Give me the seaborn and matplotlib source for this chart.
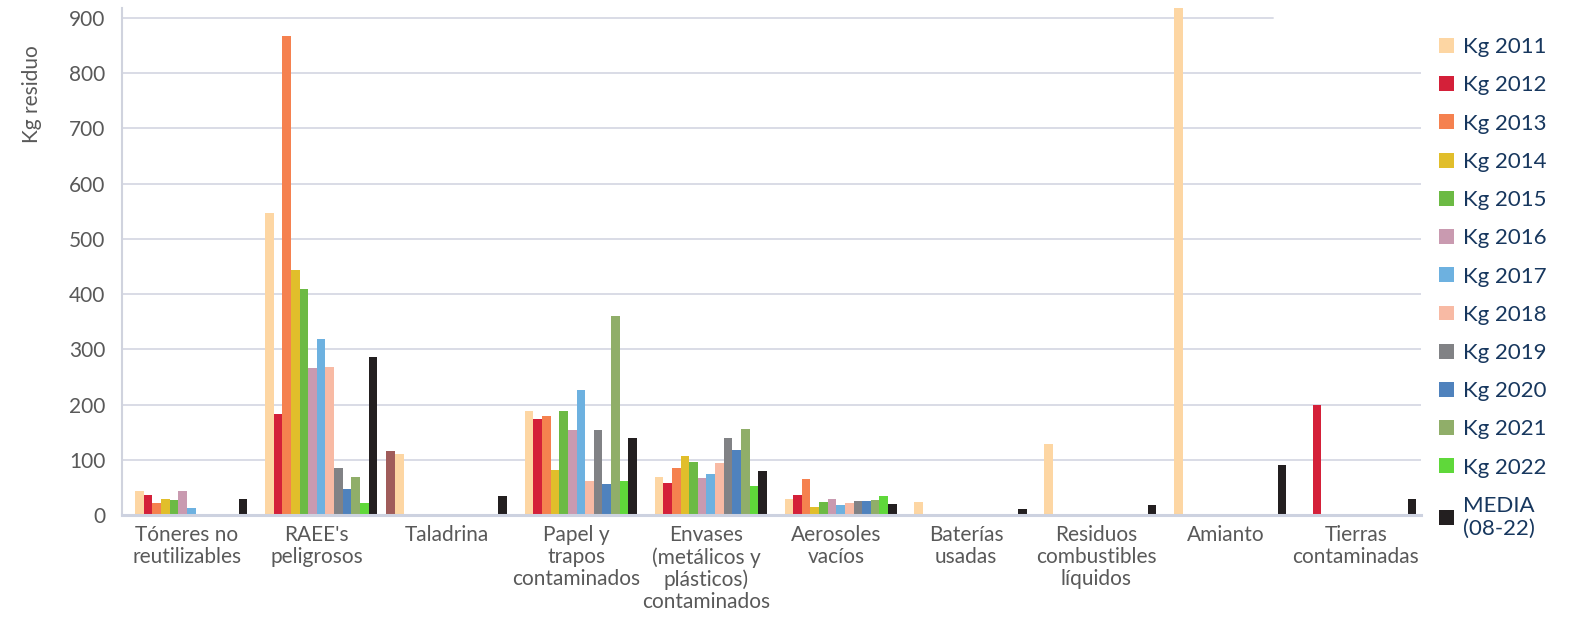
import matplotlib
matplotlib.use("Agg")
import matplotlib.pyplot as plt
import seaborn as sns
import pandas as pd

categories = ["Tóneres no\nreutilizables", "RAEE's\npeligrosos", "Taladrina",
              "Papel y\ntrapos\ncontaminados", "Envases\n(metálicos y\nplásticos)\ncontaminados",
              "Aerosoles\nvacíos", "Baterías\nusadas", "Residuos\ncombustibles\nlíquidos",
              "Amianto", "Tierras\ncontaminadas"]

kg2010 = [0, 0, 117, 0, 0, 0, 0, 0, 0, 0]
kg2011 = [44, 547, 110, 188, 70, 30, 24, 128, 918, 0]
kg2012 = [37, 184, 0, 175, 59, 37, 0, 0, 0, 200]
kg2013 = [22, 868, 0, 179, 85, 65, 0, 0, 0, 0]
kg2014 = [30, 444, 0, 81, 108, 15, 0, 0, 0, 0]
kg2015 = [28, 409, 0, 188, 96, 24, 0, 0, 0, 0]
kg2016 = [43, 267, 0, 154, 67, 30, 0, 0, 0, 0]
kg2017 = [13, 319, 0, 227, 74, 19, 0, 0, 0, 0]
kg2018 = [0, 269, 0, 61, 94, 22, 0, 0, 0, 0]
kg2019 = [0, 85, 0, 154, 140, 26, 0, 0, 0, 0]
kg2020 = [0, 48, 0, 57, 118, 26, 0, 0, 0, 0]
kg2021 = [0, 70, 0, 360, 156, 28, 0, 0, 0, 0]
kg2022 = [0, 22, 0, 61, 52, 35, 0, 0, 0, 0]
media = [30, 287, 35, 139, 80, 20, 11, 19, 90, 30]

series_names = ["Kg 2010", "Kg 2011", "Kg 2012", "Kg 2013", "Kg 2014", "Kg 2015", "Kg 2016",
                "Kg 2017", "Kg 2018", "Kg 2019", "Kg 2020", "Kg 2021", "Kg 2022", "MEDIA\n(08-22)"]
series_values = [kg2010, kg2011, kg2012, kg2013, kg2014, kg2015, kg2016, kg2017,
                 kg2018, kg2019, kg2020, kg2021, kg2022, media]
colors = ["#A05C5A", "#FDD6A3", "#D42039", "#F5814F", "#E1BE2B", "#6CBA44", "#C99AB0",
          "#6DB1E0", "#F8BAA4", "#818285", "#4F82BD", "#90AE69", "#5FD83A", "#231F20"]

yticks = [0, 100, 200, 300, 400, 500, 600, 700, 800, 900]

rows = []
for name, vals in zip(series_names, series_values):
    for c, v in zip(categories, vals):
        rows.append({"cat": c, "serie": name, "kg": v})
df = pd.DataFrame(rows)

sns.set_theme(style="white")
plt.rcParams["font.family"] = ["Lato", "DejaVu Sans"]

fig = plt.figure(figsize=(15.77, 6.17), dpi=100)
ax = fig.add_axes([0.0774, 0.165, 0.8235, 0.822])

grid_col = "#D9DCE6"
for t in yticks[1:]:
    ax.axhline(t, color=grid_col, lw=1.4, zorder=0,
               xmax=0.886 if t == 900 else 1.0)

sns.barplot(data=df, x="cat", y="kg", hue="serie", order=categories,
            hue_order=series_names, palette=colors, width=0.93,
            linewidth=0, saturation=1, ax=ax, zorder=2, legend=True)

ax.set_ylim(0, 918)
ax.set_xlim(-0.5, len(categories) - 0.5)
ax.set_yticks(yticks)
ax.set_yticklabels([str(t) for t in yticks], fontsize=15, color="#595959")
ax.set_xticks(range(len(categories)))
ax.set_xticklabels(categories, fontsize=15, color="#595959", linespacing=1.12, va="top")
ax.tick_params(axis="both", length=0)
ax.tick_params(axis="y", pad=12)
ax.tick_params(axis="x", pad=7)

for s in ["top", "right"]:
    ax.spines[s].set_visible(False)
ax.spines["left"].set_color("#D0D3DE")
ax.spines["left"].set_linewidth(1.5)
ax.spines["bottom"].set_color("#CDD2E0")
ax.spines["bottom"].set_linewidth(2.2)

ax.set_xlabel("")
ax.set_ylabel("Kg residuo", fontsize=15, color="#595959")
ax.yaxis.set_label_coords(-0.0616, 0.83)

handles, labels = ax.get_legend_handles_labels()
pairs = [(h, l) for h, l in zip(handles, labels) if l != "Kg 2010"]
ax.get_legend().remove()
leg = fig.legend([p[0] for p in pairs], [p[1] for p in pairs],
                 loc="upper left", bbox_to_anchor=(0.900, 0.972), frameon=False,
                 fontsize=16, handlelength=0.65, handleheight=0.65,
                 handletextpad=0.4, labelspacing=0.82)
for txt in leg.get_texts():
    txt.set_color("#17375E")

fig.savefig("out.png", dpi=100)
